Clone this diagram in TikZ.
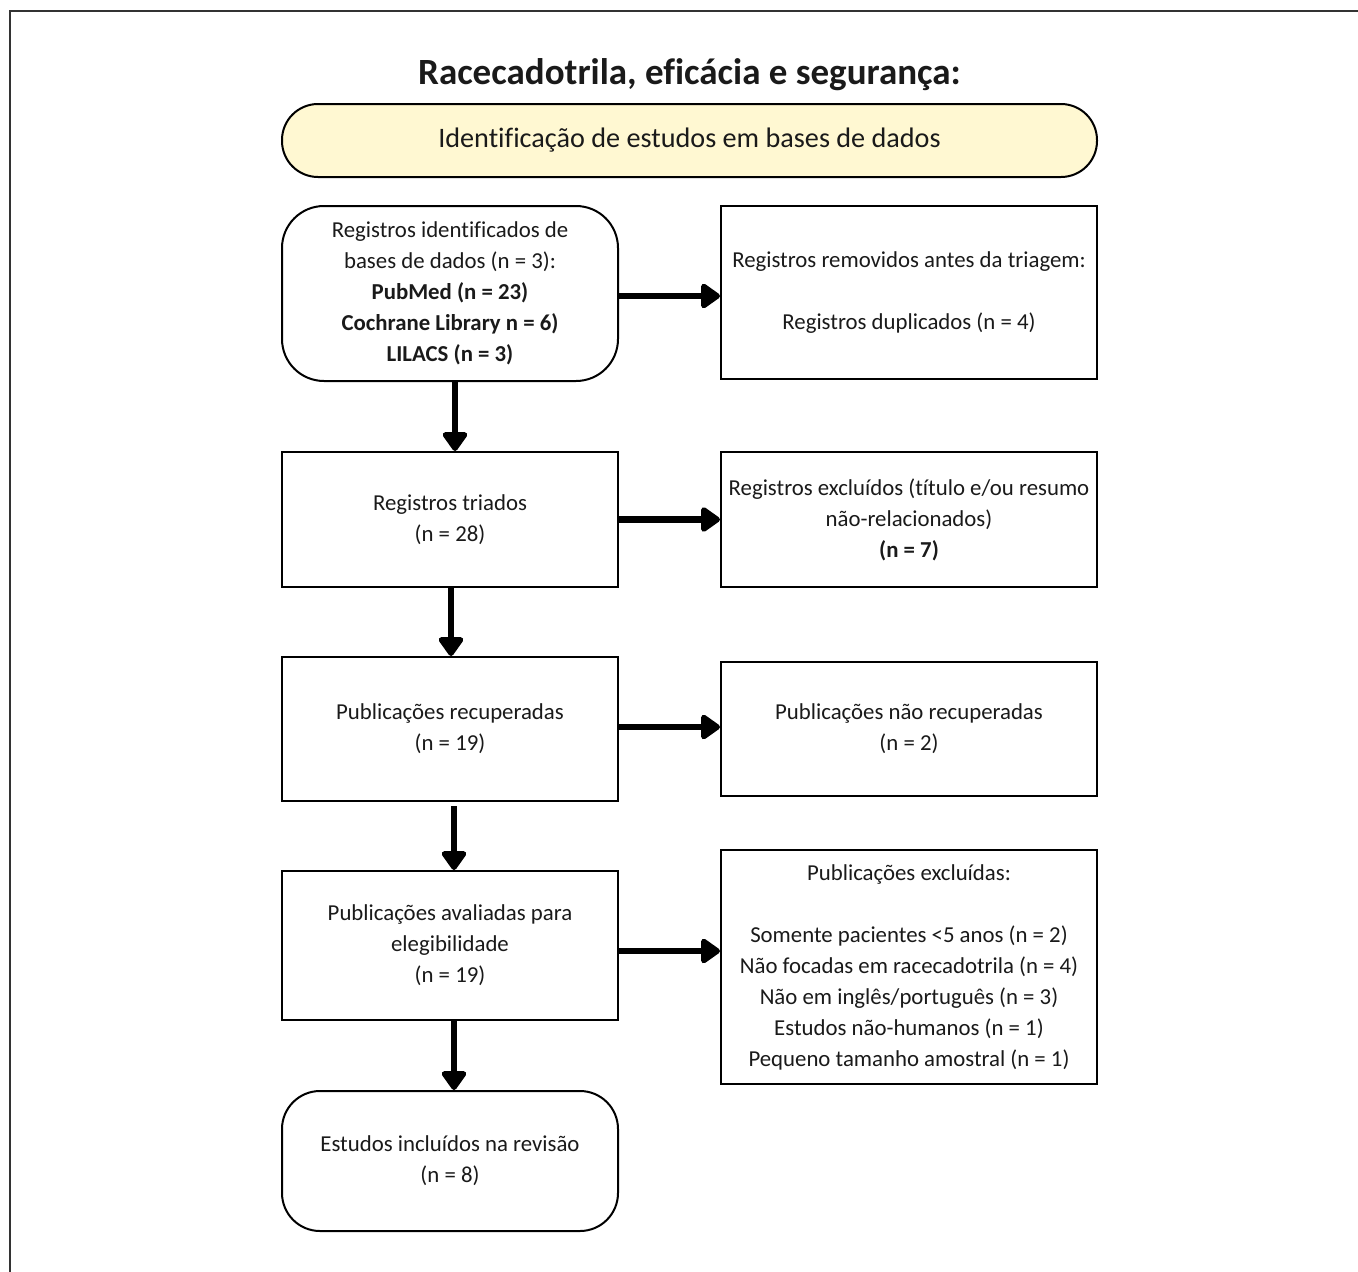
\documentclass[tikz,border=0pt]{standalone}
\usepackage{fontspec}
\setmainfont[Ligatures=NoCommon]{Carlito}
\usetikzlibrary{arrows.meta}
\definecolor{hdrfill}{HTML}{FFF8D2}
\definecolor{txt}{HTML}{1A1A1A}
\begin{document}
\begin{tikzpicture}[x=1pt,y=-1pt,
  boxbase/.style={draw=black, line width=2pt, inner sep=0pt, align=center,
    text=txt, font=\fontsize{22.8}{31}\selectfont},
  leftbox/.style={boxbase, minimum width=336pt},
  rightbox/.style={boxbase, minimum width=376pt},
  arr/.style={line width=6.5pt, -{Triangle[round,width=28pt,length=21pt]}},
]
\useasboundingbox (0,0) rectangle (1358,1272);
\fill[white] (0,0) rectangle (1358,1272);
% outer frame (top and left lines)
\draw[line width=2.5pt, color=black!80] (10,1272) -- (10,11) -- (1358,11);

\node[font=\fontsize{37}{42}\selectfont\bfseries, text=txt] (title) at (689.5,75) {Racecadotrila, eficácia e segurança:};

\node[boxbase, fill=hdrfill, minimum width=815pt, minimum height=73pt, rounded corners=36pt,
  font=\fontsize{28.2}{31}\selectfont] (hdr) at (689.5,140.5) {Identificação de estudos em bases de dados};

\node[leftbox, minimum height=175pt, rounded corners=42pt] (b1) at (450,293.5)
  {Registros identificados de\\ bases de dados (n = 3):\\ \textbf{PubMed (n = 23)}\\ \textbf{Cochrane Library n = 6)}\\ \textbf{LILACS (n = 3)}};
\node[rightbox, minimum height=173pt] (r1) at (909,292.5)
  {Registros removidos antes da triagem:\\[31pt] Registros duplicados (n = 4)};

\node[leftbox, minimum height=135pt] (b2) at (450,519.5) {Registros triados\\ (n = 28)};
\node[rightbox, minimum height=135pt] (r2) at (909,519.5)
  {Registros excluídos (título e/ou resumo\\ não-relacionados)\\ \textbf{(n = 7)}};

\node[leftbox, minimum height=144pt] (b3) at (450,729) {Publicações recuperadas\\ (n = 19)};
\node[rightbox, minimum height=134pt] (r3) at (909,729) {Publicações não recuperadas\\ (n = 2)};

\node[leftbox, minimum height=149pt] (b4) at (450,945.5) {Publicações avaliadas para\\ elegibilidade\\ (n = 19)};
\node[rightbox, minimum height=234pt] (r4) at (909,967)
  {Publicações excluídas:\\[31pt] Somente pacientes <5 anos (n = 2)\\ Não focadas em racecadotrila (n = 4)\\ Não em inglês/português (n = 3)\\ Estudos não-humanos (n = 1)\\ Pequeno tamanho amostral (n = 1)};

\node[leftbox, minimum height=140pt, rounded corners=38pt] (b5) at (450,1161) {Estudos incluídos na revisão\\ (n = 8)};

% horizontal arrows
\draw[arr] ([yshift=-2.5pt]b1.east) -- ([yshift=-2.5pt]b1.east -| r1.west);
\draw[arr] (b2.east) -- (r2.west);
\draw[arr] ([yshift=2pt]b3.east) -- ([yshift=2pt]b3.east -| r3.west);
\draw[arr] ([yshift=-5.5pt]b4.east) -- ([yshift=-5.5pt]b4.east -| r4.west);

% vertical arrows
\draw[arr] ([xshift=5pt]b1.south) -- ([xshift=5pt]b2.north);
\draw[arr] ([xshift=1pt]b2.south) -- ([xshift=1pt]b3.north);
\draw[arr] ([xshift=4pt,yshift=-4pt]b3.south) -- ([xshift=4pt]b4.north);
\draw[arr] ([xshift=4pt]b4.south) -- ([xshift=4pt]b5.north);
\end{tikzpicture}
\end{document}
